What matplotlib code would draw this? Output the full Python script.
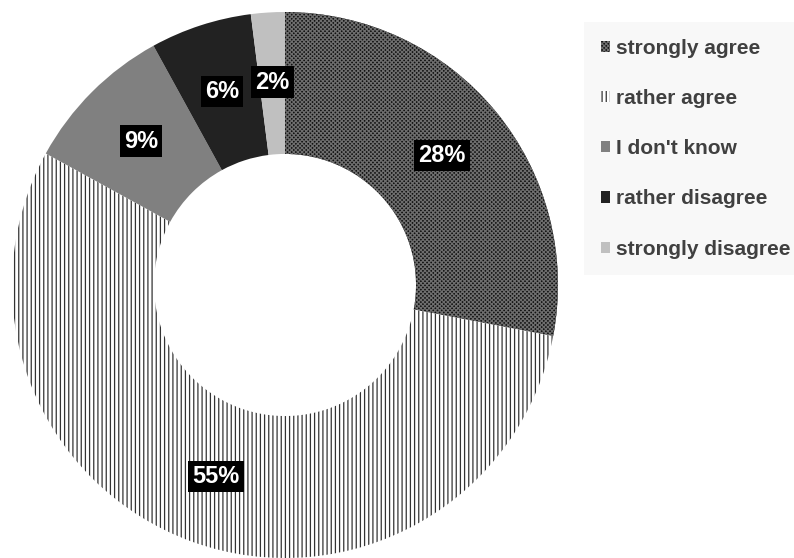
import numpy as np
import matplotlib.pyplot as plt
from matplotlib.patches import Patch

# survey answers, clockwise from 12 o'clock
labels = ["strongly agree", "rather agree", "I don't know", "rather disagree", "strongly disagree"]
shares = [28, 55, 9, 6, 2]

faces = ["#111111", "white", "#808080", "#222222", "#c0c0c0"]
hatch_cols = ["#6e6e6e", "#333333", "#808080", "#222222", "#c0c0c0"]
hatches = ["xxxxxxxx", "||||", None, None, None]

plt.rcParams['font.family'] = ['Liberation Sans', 'DejaVu Sans']
plt.rcParams['hatch.linewidth'] = 0.9

fig = plt.figure(figsize=(7.94, 5.58), dpi=100)
ax = fig.add_axes([12 / 794, 0, 546 / 794, 546 / 558])

wedges, texts = ax.pie(shares, startangle=90, counterclock=False, radius=1.0,
                       wedgeprops=dict(width=0.52, linewidth=0))
for w, fc, hc, h in zip(wedges, faces, hatch_cols, hatches):
    w.set_facecolor(fc)
    w.set_edgecolor(hc)
    w.set_hatch(h)

# percentage labels
cum = np.cumsum([0] + shares)
for i, s in enumerate(shares):
    mid = 90 - 360 * (cum[i] + s / 2) / 100
    r = 0.745
    ax.text(r * np.cos(np.radians(mid)), r * np.sin(np.radians(mid)), "%d%%" % s,
            ha="center", va="center", color="white", fontsize=17, fontweight="bold",
            bbox=dict(boxstyle="square,pad=0.18", facecolor="black", edgecolor="none"))

ax.set_xlim(-1, 1)
ax.set_ylim(-1, 1)
ax.set_aspect("equal")
ax.axis("off")

handles = [Patch(facecolor=fc, edgecolor=hc, hatch=h, linewidth=0)
           for fc, hc, h in zip(faces, hatch_cols, hatches)]
leg = fig.legend(handles, labels, loc="upper left", bbox_to_anchor=(584 / 794, 1 - 22 / 558),
                 borderaxespad=0, frameon=True, facecolor="#f7f7f7", edgecolor="none",
                 fancybox=False, handlelength=0.45, handleheight=0.45, handletextpad=0.3,
                 labelspacing=1.5, borderpad=0.8,
                 prop=dict(size=15, weight="bold"))
for t in leg.get_texts():
    t.set_color("#404040")

fig.savefig("out.png", dpi=100)
